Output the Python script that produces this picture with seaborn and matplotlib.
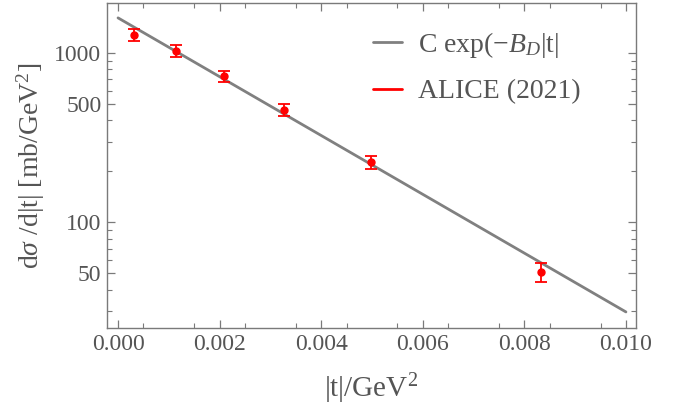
import numpy as np
import pandas as pd
import seaborn as sns
import matplotlib.pyplot as plt
from matplotlib.lines import Line2D

# fit curve end points (straight on log axis)
fit_t = [0.0, 0.010]
fit_y = [1610.0, 29.6]

# ALICE (2021) points
t_data = [0.00032, 0.00114, 0.00209, 0.003275, 0.004974, 0.008327]
y_data = [1283, 1032, 728, 462, 226, 50.8]
y_err = [110, 80, 58, 37, 19, 6.4]

x_ticks = [0.000, 0.002, 0.004, 0.006, 0.008, 0.010]
y_ticks = [50, 100, 500, 1000]
y_minor = [30, 40, 60, 70, 80, 90, 200, 300, 400, 600, 700, 800, 900]

sns.set_style("ticks")
plt.rcParams['font.family'] = ['Liberation Serif', 'DejaVu Serif']
plt.rcParams['mathtext.fontset'] = 'custom'
plt.rcParams['mathtext.rm'] = 'Liberation Serif'
plt.rcParams['mathtext.it'] = 'Liberation Serif:italic'

txt = '#555555'
frame = '#7a7a7a'

fig = plt.figure(figsize=(6.86, 4.11), dpi=100)
ax = fig.add_axes([0.156, 0.202, 0.771, 0.791])

fit = pd.DataFrame({'t': fit_t, 'y': fit_y})
sns.lineplot(data=fit, x='t', y='y', ax=ax, color='#808080', lw=2.0)
ax.errorbar(t_data, y_data, yerr=y_err, fmt='o', color='red', ms=5,
            capsize=4.5, elinewidth=1.3, capthick=1.3, zorder=3)

ax.set_yscale('log')
ax.set_xlim(-0.000217, 0.010197)
ax.set_ylim(23.8, 1974)
ax.set_xticks(x_ticks)
ax.set_xticklabels([f'{v:.3f}' for v in x_ticks])
ax.set_xticks(np.arange(0.0005, 0.0100, 0.001), minor=True)
ax.set_yticks(y_ticks)
ax.set_yticklabels([str(v) for v in y_ticks])
ax.set_yticks(y_minor, minor=True)
ax.yaxis.set_minor_formatter(plt.NullFormatter())

for s in ax.spines.values():
    s.set_color(frame)
    s.set_linewidth(1.0)
ax.tick_params(which='both', direction='in', top=True, right=True,
               colors=frame, labelcolor=txt, labelsize=17)
ax.tick_params(which='major', length=6, width=0.9, pad=4)
ax.tick_params(which='minor', length=3.5, width=0.8)

ax.set_xlabel('|t|/GeV$^2$', fontsize=21, color=txt, labelpad=12)
ax.set_ylabel(r'd$\sigma$ /d|t| [mb/GeV$^2$]', fontsize=20, color=txt, labelpad=5)

handles = [Line2D([], [], color='#808080', lw=2.0),
           Line2D([], [], color='red', lw=2.0)]
labels = ['C exp(\u2212$B_D$|t|', 'ALICE (2021)']
leg = ax.legend(handles, labels, loc='upper left', bbox_to_anchor=(0.503, 0.918),
                frameon=False, fontsize=20, handlelength=1.05, handletextpad=0.55,
                labelspacing=0.7, borderpad=0, borderaxespad=0, labelcolor=txt)

fig.savefig('out.png', dpi=100)
